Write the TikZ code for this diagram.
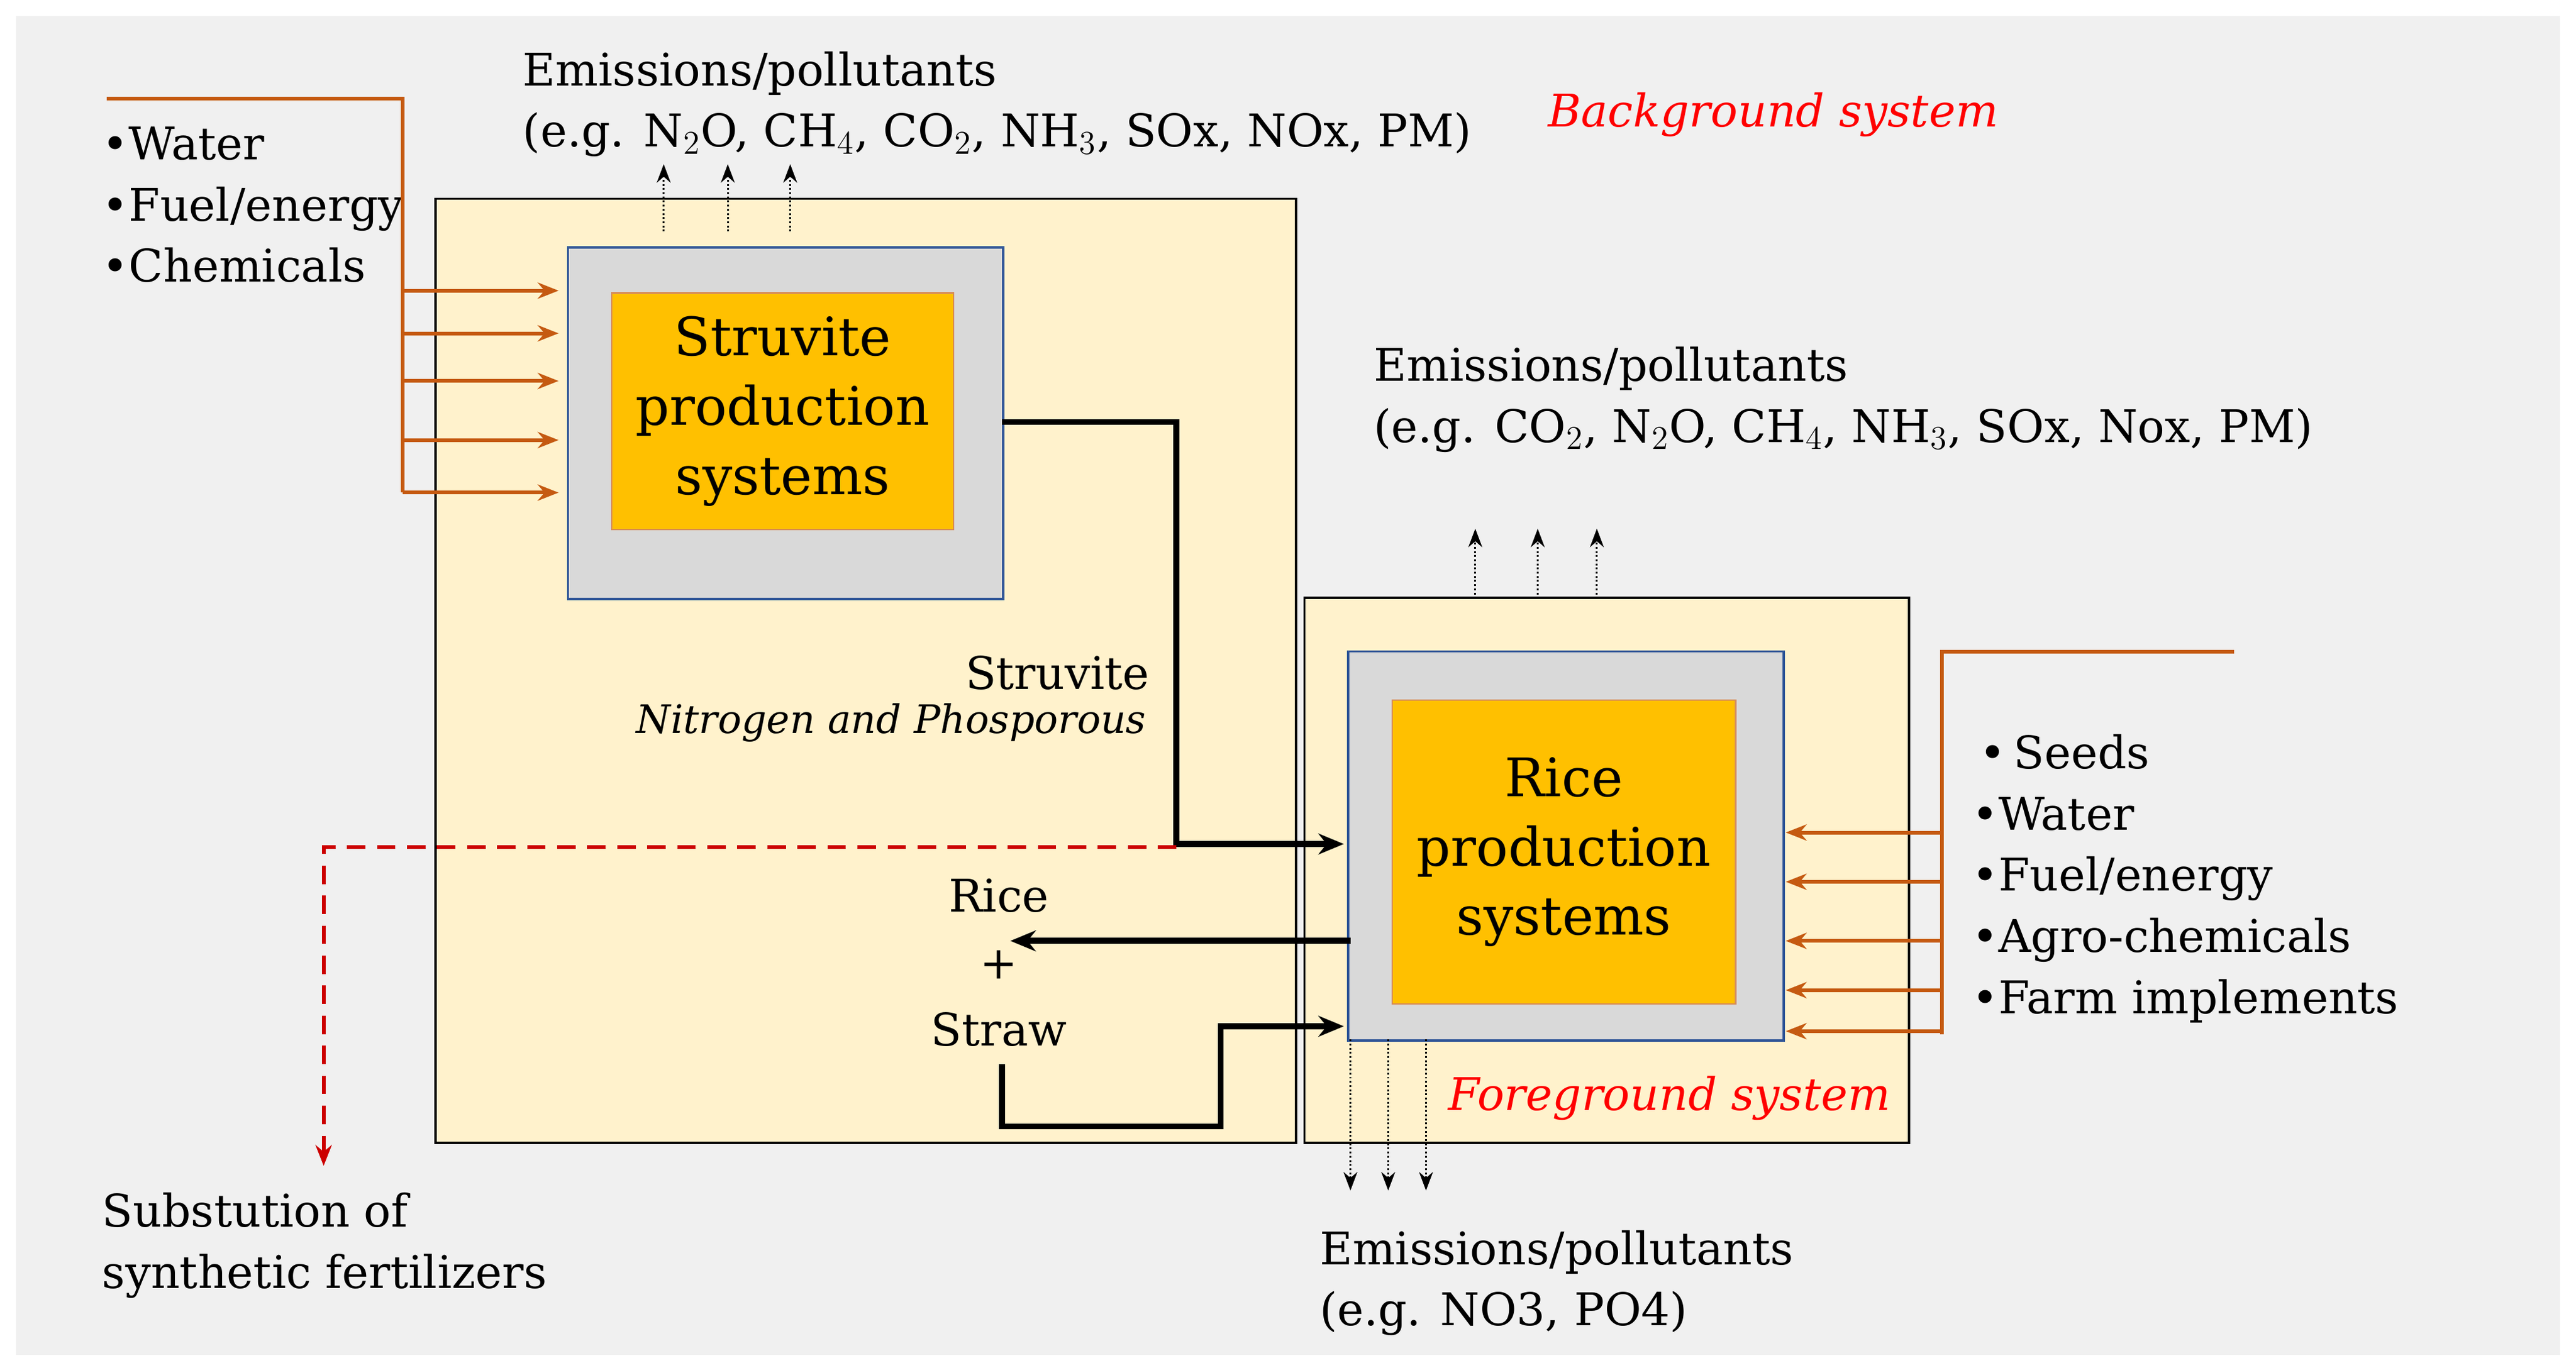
\documentclass[tikz,border=0pt]{standalone}
\usepackage{fontspec}
\setmainfont{DejaVu Serif}
\usetikzlibrary{arrows.meta}
\definecolor{bg}{HTML}{F0F0F0}
\definecolor{cream}{HTML}{FFF2CC}
\definecolor{gr}{HTML}{D9D9D9}
\definecolor{gold}{HTML}{FFC000}
\definecolor{og}{HTML}{C55A11}
\definecolor{bl}{HTML}{2F5597}
\begin{document}
\begin{tikzpicture}[x=0.025cm,y=-0.025cm,
  txt/.style={font=\fontsize{19.5}{26.5}\selectfont,inner sep=0pt,align=left},
  big/.style={font=\fontsize{23}{30}\selectfont,align=center},
  outer/.style={draw=black,line width=1pt,fill=cream},
  grey/.style={draw=bl,line width=1pt,fill=gr},
  core/.style={draw=og!70,line width=0.6pt,fill=gold},
  oline/.style={draw=og,line width=1.6pt},
  oarr/.style={oline,-{Stealth[length=9pt,width=7pt]}},
  flow/.style={line width=2.6pt,-{Stealth[length=11pt,width=9pt]}},
  emi/.style={densely dotted,line width=0.8pt,-{Stealth[length=8pt,width=6pt]}}]
\useasboundingbox (0,0) rectangle (1568,830);
\fill[white] (0,0) rectangle (1568,830);
\fill[bg] (10,10) rectangle (1558,825);
% boxes
\draw[outer] (265,121) rectangle (789,696);
\draw[outer] (794,364) rectangle (1162,696);
\node[grey,minimum width=265*0.025cm,minimum height=214*0.025cm,anchor=north west] (sg) at (345,150) {};
\node[core,minimum width=208*0.025cm,minimum height=144*0.025cm,anchor=north west,big] (sp) at (372,178) {Struvite\\production\\systems};
\node[grey,minimum width=265*0.025cm,minimum height=237*0.025cm,anchor=north west] (rg) at (820,396) {};
\node[core,minimum width=209*0.025cm,minimum height=185*0.025cm,anchor=north west,big] (rp) at (847,426) {Rice\\production\\systems};
% texts
\node[txt,anchor=north west] (t1) at (318,31) {Emissions/pollutants\\(e.g. N$_2$O, CH$_4$, CO$_2$, NH$_3$, SOx, NOx, PM)};
\node[txt,anchor=north west,text=red,font=\fontsize{19.5}{26.5}\selectfont\itshape] (bgs) at (942,56) {Background system};
\node[txt,anchor=north west] (in1) at (62,77) {•Water\\•Fuel/energy\\•Chemicals};
\node[txt,anchor=north west] (t2) at (836,211) {Emissions/pollutants\\(e.g. CO$_2$, N$_2$O, CH$_4$, NH$_3$, SOx, Nox, PM)};
\node[txt,anchor=north east] (st) at (700,399) {Struvite};
\node[txt,anchor=north east,font=\fontsize{17}{20}\selectfont\itshape] (np) at (698,428) {Nitrogen and Phosporous};
\node[txt,anchor=north west,align=left] (in2) at (1200,447) {\,•\,Seeds\\•Water\\•Fuel/energy\\•Agro-chemicals\\•Farm implements};
\node[txt,anchor=north,align=center,font=\fontsize{19.5}{26}\selectfont] (rs) at (608,535) {Rice\\[3pt]+\\[3pt]Straw};
\node[txt,anchor=north east,text=red,font=\fontsize{19.5}{26.5}\selectfont\itshape] (fgs) at (1151,655) {Foreground system};
\node[txt,anchor=north west] (sub) at (62,726) {Substution of\\synthetic fertilizers};
\node[txt,anchor=north west] (t3) at (803,749) {Emissions/pollutants\\(e.g. NO3, PO4)};
% orange inputs
\coordinate (la) at (65,60); \coordinate (lb) at (245,60); \coordinate (lc) at (245,300);
\draw[oline] (la) -- (lb) -- (lc);
\foreach \y in {177,203,232,268,300} \draw[oarr] (245,\y) -- (340,\y);
\coordinate (ra) at (1360,397); \coordinate (rb) at (1182,397); \coordinate (rc) at (1182,630);
\draw[oline] (ra) -- (rb) -- (rc);
\foreach \y in {507,537,573,603,628} \draw[oarr] (1182,\y) -- (1087,\y);
% flows
\coordinate (s1) at (610,257); \coordinate (s2) at (716,257); \coordinate (s3) at (716,514); \coordinate (s4) at (818,514);
\draw[flow] (s1) -- (s2) -- (s3) -- (s4);
\coordinate (r1) at (822,573); \coordinate (r2) at (615,573);
\draw[flow] (r1) -- (r2);
\coordinate (w1) at (610,648); \coordinate (w2) at (610,686); \coordinate (w3) at (743,686); \coordinate (w4) at (743,625); \coordinate (w5) at (818,625);
\draw[flow] (w1) -- (w2) -- (w3) -- (w4) -- (w5);
\coordinate (d1) at (716,516); \coordinate (d2) at (197,516); \coordinate (d3) at (197,710);
\draw[red!80!black,line width=1.6pt,dash pattern=on 8pt off 5pt,-{Stealth[length=9pt,width=7pt]}] (d1) -- (d2) -- (d3);
% emissions arrows
\foreach \x in {404,443,481} \draw[emi] (\x,141) -- (\x,100);
\foreach \x in {898,936,972} \draw[emi] (\x,362) -- (\x,322);
\foreach \x in {822,845,868} \draw[emi] (\x,633) -- (\x,725);
\end{tikzpicture}
\end{document}
